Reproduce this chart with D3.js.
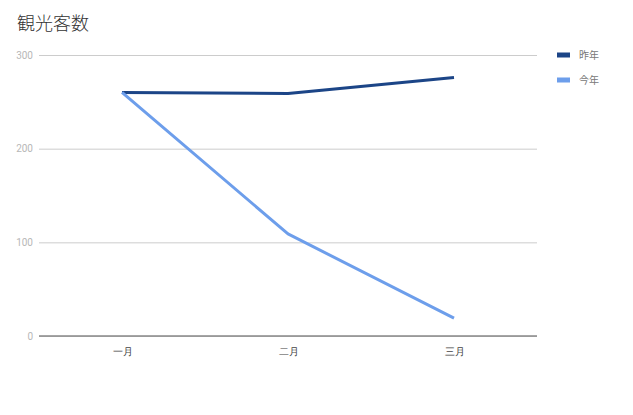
<!DOCTYPE html>
<html><head><meta charset="utf-8">
<script src="https://cdn.jsdelivr.net/npm/d3@7"></script>
<style>body{margin:0;background:#fff}svg{display:block}</style>
</head><body>
<script>
const categories = ["一月", "二月", "三月"];
const seriesNames = ["昨年", "今年"];
const lastYear = [260, 259, 276];
const thisYear = [260, 109, 19];
const yTicks = [0, 100, 200, 300];
const colors = ["#1c4587", "#6d9eeb"];
const title = "観光客数";

const W = 633, H = 415;
const m = {left: 39, right: 96, top: 55, bottom: 79};
const svg = d3.select("body").append("svg").attr("width", W).attr("height", H)
  .style("font-family", "'Noto Sans CJK JP', Roboto, Arial, sans-serif");

const x = d3.scalePoint().domain(categories).range([m.left, W - m.right]).padding(0.5);
const y = d3.scaleLinear().domain([0, 300]).range([H - m.bottom, m.top]);

svg.append("text").attr("x", 17).attr("y", 30).attr("font-size", 18).attr("font-weight", 300)
  .attr("fill", "#333").text(title);

// grid
const yAxis = d3.axisLeft(y).tickValues(yTicks).tickSize(-(W - m.right - m.left)).tickPadding(6);
const gy = svg.append("g").attr("transform", `translate(${m.left},0)`).call(yAxis);
gy.select(".domain").remove();
gy.selectAll(".tick line").attr("stroke", "#cccccc");
gy.selectAll(".tick text").attr("fill", "#b7b7b7").attr("font-size", 10).attr("font-family", "Roboto, Arial, sans-serif");

// baseline
svg.append("line").attr("x1", m.left).attr("x2", W - m.right).attr("y1", y(0)).attr("y2", y(0))
  .attr("stroke", "#888").attr("stroke-width", 1.5);

const xAxis = d3.axisBottom(x).tickSize(0).tickPadding(12);
const gx = svg.append("g").attr("transform", `translate(0,${y(0)})`).call(xAxis);
gx.select(".domain").remove();
gx.selectAll(".tick text").attr("fill", "#444").attr("font-size", 10);

const line = d3.line().x((d, i) => x(categories[i])).y(d => y(d));
[lastYear, thisYear].forEach((s, k) => {
  svg.append("path").datum(s).attr("d", line).attr("fill", "none")
    .attr("stroke", colors[k]).attr("stroke-width", 3).attr("stroke-linejoin", "round");
});

// legend
seriesNames.forEach((n, k) => {
  const yy = 55 + k * 25;
  svg.append("rect").attr("x", 557).attr("y", yy - 2.5).attr("width", 13).attr("height", 5).attr("fill", colors[k]);
  svg.append("text").attr("x", 579).attr("y", yy + 4).attr("font-size", 10).attr("fill", "#777").text(n);
});
</script>
</body></html>
